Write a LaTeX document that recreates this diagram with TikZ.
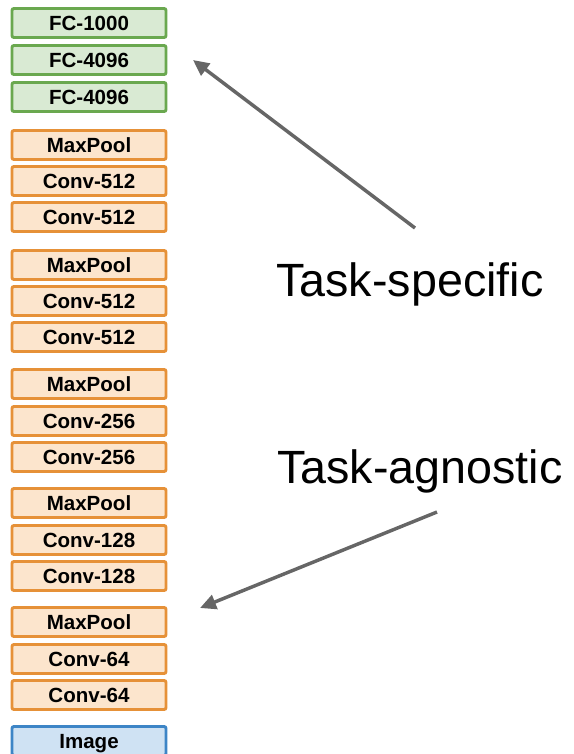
\documentclass[tikz,border=0pt]{standalone}
\usepackage{fontspec}
\setmainfont{Liberation Sans}
\usetikzlibrary{arrows.meta}
\definecolor{fcfill}{HTML}{D9EAD3}
\definecolor{fcline}{HTML}{6AA84F}
\definecolor{convfill}{HTML}{FCE5CD}
\definecolor{convline}{HTML}{E69138}
\definecolor{imgfill}{HTML}{CFE2F3}
\definecolor{imgline}{HTML}{3D85C6}
\definecolor{arrowgray}{HTML}{666666}
\begin{document}
\begin{tikzpicture}[x=0.75pt,y=-0.75pt,
  layer/.style={draw, line width=2.2pt, rounded corners=1.5pt,
    minimum width=115.5pt, minimum height=21.75pt, inner sep=0pt,
    text height=11pt, text depth=0pt,
    font=\fontsize{15.4}{18}\selectfont\bfseries},
  fclayer/.style={layer, draw=fcline, fill=fcfill},
  convlayer/.style={layer, draw=convline, fill=convfill},
  imglayer/.style={layer, draw=imgline, fill=imgfill},
  biglabel/.style={anchor=base west, inner sep=0pt, font=\fontsize{35}{42}\selectfont},
  taskarrow/.style={draw=arrowgray, line width=2.6pt,
    -{Triangle[length=12pt,width=11pt]}}]
\useasboundingbox (0,0) rectangle (574,754);
\clip (0,0) rectangle (574,754);

% fully connected layers
\node[fclayer] (fc1000) at (89,23) {FC-1000};
\node[fclayer] (fc4096a) at (89,60) {FC-4096};
\node[fclayer] (fc4096b) at (89,97) {FC-4096};

% convolutional blocks
\node[convlayer] (pool5) at (89,145) {MaxPool};
\node[convlayer] (c53) at (89,181) {Conv-512};
\node[convlayer] (c52) at (89,217) {Conv-512};

\node[convlayer] (pool4) at (89,265) {MaxPool};
\node[convlayer] (c43) at (89,301) {Conv-512};
\node[convlayer] (c42) at (89,337) {Conv-512};

\node[convlayer] (pool3) at (89,384) {MaxPool};
\node[convlayer] (c32) at (89,421) {Conv-256};
\node[convlayer] (c31) at (89,457) {Conv-256};

\node[convlayer] (pool2) at (89,503) {MaxPool};
\node[convlayer] (c22) at (89,540) {Conv-128};
\node[convlayer] (c21) at (89,576) {Conv-128};

\node[convlayer] (pool1) at (89,622) {MaxPool};
\node[convlayer] (c12) at (89,659) {Conv-64};
\node[convlayer] (c11) at (89,695) {Conv-64};

% input
\node[imglayer] (img) at (89,741) {Image};

% annotations
\node[biglabel] (spec) at (276,296) {Task-specific};
\node[biglabel] (agno) at (277,483) {Task-agnostic};

\coordinate (specfrom) at (415,228);
\coordinate (specto) at (193,60);
\coordinate (agnofrom) at (437,512);
\coordinate (agnoto) at (200,608);
\draw[taskarrow] (specfrom) -- (specto);
\draw[taskarrow] (agnofrom) -- (agnoto);
\end{tikzpicture}
\end{document}
